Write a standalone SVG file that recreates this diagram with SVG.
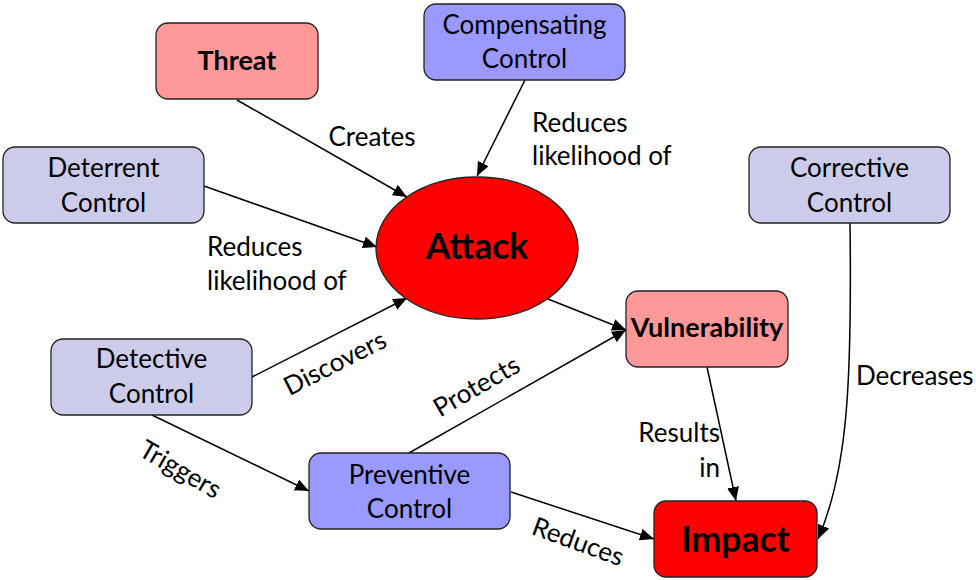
<svg xmlns="http://www.w3.org/2000/svg" width="976" height="580" viewBox="0 0 976 580">
<style>
.box{stroke:#222;stroke-width:1.3}
.lav{fill:#ccccea}
.blue{fill:#9999ff}
.pink{fill:#ff9999}
.red{fill:#ff0000}
text{font-family:Lato,"Liberation Sans",sans-serif;font-size:26px;fill:#000}
.c{text-anchor:middle}
.b{font-weight:bold;font-size:27px}
.big{font-size:35.5px;font-weight:bold}
.edge{stroke:#000;stroke-width:1.5;fill:none;marker-end:url(#arr)}
</style>
<defs>
<marker id="arr" markerUnits="userSpaceOnUse" markerWidth="14" markerHeight="12" viewBox="0 0 14 12" refX="14" refY="6" orient="auto">
<path d="M0,0 L14,6 L0,12 Z" fill="#000"/>
</marker>
</defs>
<rect width="976" height="580" fill="#fff"/>
<g id="connectors">
<line class="edge" x1="237" y1="100" x2="407" y2="197"/>
<line class="edge" x1="525" y1="80" x2="477" y2="176"/>
<line class="edge" x1="204" y1="186" x2="377" y2="247"/>
<line class="edge" x1="252" y1="377" x2="407" y2="298"/>
<line class="edge" x1="548" y1="299" x2="626" y2="330"/>
<line class="edge" x1="409" y1="453" x2="626" y2="330"/>
<line class="edge" x1="152" y1="415" x2="309" y2="491"/>
<line class="edge" x1="511" y1="492" x2="654" y2="539"/>
<line class="edge" x1="707" y1="367" x2="736" y2="501"/>
<path class="edge" d="M850,223 C852,380 848,470 818,539"/>
<text x="372" y="146" class="c">Creates</text>
<text x="532" y="132">Reduces</text>
<text x="532" y="165">likelihood of</text>
<text x="207" y="256">Reduces</text>
<text x="207" y="290">likelihood of</text>
<text x="339" y="371" class="c" transform="rotate(-27 339 371)">Discovers</text>
<text x="481" y="394" class="c" transform="rotate(-30 481 394)">Protects</text>
<text x="176" y="477" class="c" transform="rotate(30 176 477)">Triggers</text>
<text x="575" y="550" class="c" transform="rotate(20 575 550)">Reduces</text>
<text x="720" y="442" text-anchor="end">Results</text>
<text x="720" y="477" text-anchor="end">in</text>
<text x="856" y="385">Decreases</text>
</g>
<g id="threat">
<rect class="box pink" x="156" y="23" width="162" height="76" rx="12"/>
<text x="237" y="70" class="c b">Threat</text>
</g>
<g id="compensating">
<rect class="box blue" x="424" y="4" width="201" height="76" rx="12"/>
<text x="524.5" y="34" class="c">Compensating</text>
<text x="524.5" y="68" class="c">Control</text>
</g>
<g id="deterrent">
<rect class="box lav" x="3" y="147" width="201" height="76" rx="12"/>
<text x="103.5" y="177" class="c">Deterrent</text>
<text x="103.5" y="212" class="c">Control</text>
</g>
<g id="corrective">
<rect class="box lav" x="749" y="147" width="201" height="76" rx="12"/>
<text x="849.5" y="177" class="c">Corrective</text>
<text x="849.5" y="212" class="c">Control</text>
</g>
<g id="attack">
<ellipse class="box red" cx="477" cy="248" rx="101" ry="71"/>
<text x="477" y="259" class="c big">Attack</text>
</g>
<g id="vulnerability">
<rect class="box pink" x="626" y="291" width="162" height="76" rx="12"/>
<text x="707" y="337" class="c b">Vulnerability</text>
</g>
<g id="detective">
<rect class="box lav" x="51" y="339" width="201" height="76" rx="12"/>
<text x="151.5" y="368" class="c">Detective</text>
<text x="151.5" y="403" class="c">Control</text>
</g>
<g id="preventive">
<rect class="box blue" x="309" y="453" width="201" height="76" rx="12"/>
<text x="409.5" y="484" class="c">Preventive</text>
<text x="409.5" y="518" class="c">Control</text>
</g>
<g id="impact">
<rect class="box red" x="654" y="501" width="163" height="76" rx="12"/>
<text x="735.5" y="552" class="c big">Impact</text>
</g>
</svg>
